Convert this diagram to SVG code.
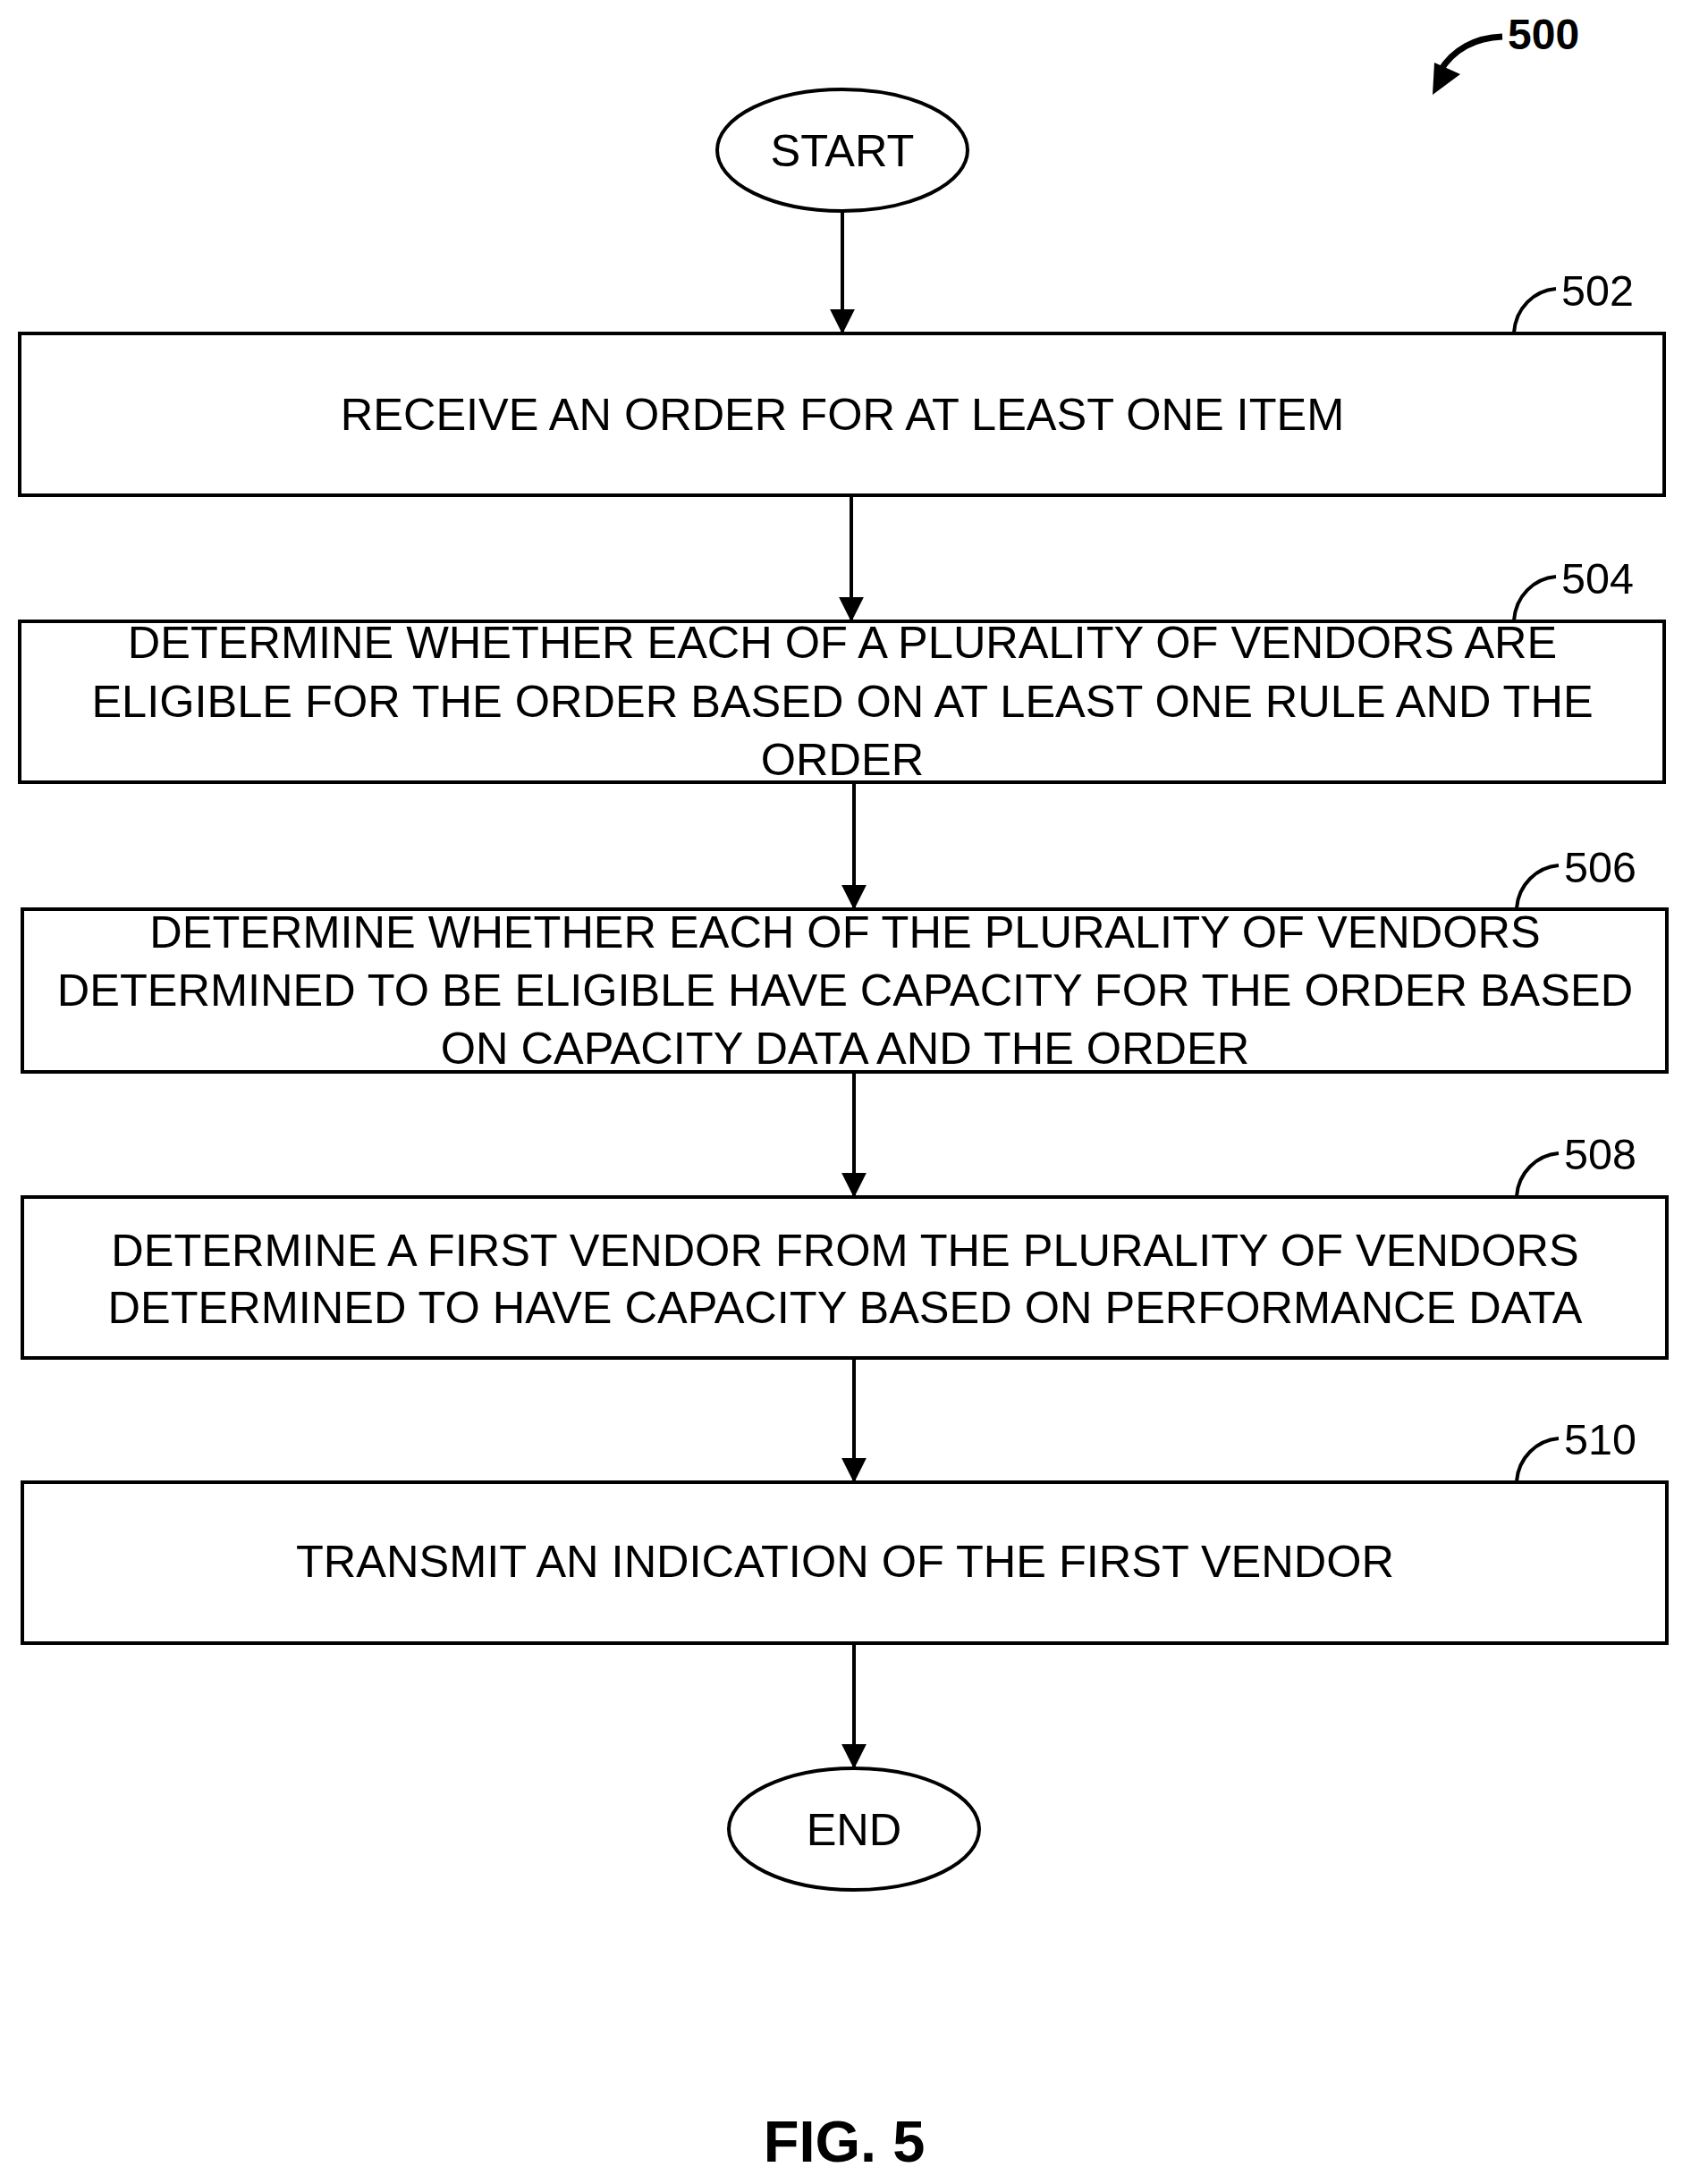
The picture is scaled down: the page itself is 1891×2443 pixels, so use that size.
<svg xmlns="http://www.w3.org/2000/svg" width="1891" height="2443" viewBox="0 0 1891 2443">
<style>
.b{fill:#fff;stroke:#000;stroke-width:4}
.t{font-family:"Liberation Sans",Arial,sans-serif;font-size:50.5px;text-anchor:middle;fill:#000}
.n{font-family:"Liberation Sans",Arial,sans-serif;font-size:48.5px;fill:#000}
.c{fill:none;stroke:#000;stroke-width:4}
</style>
<defs>
<marker id="a2" viewBox="0 0 10 10" refX="9" refY="5" markerWidth="28" markerHeight="28" orient="auto" markerUnits="userSpaceOnUse"><path d="M0,0 L10,5 L0,10z"/></marker></defs>
<rect width="1891" height="2443" fill="#fff"/>
<g id="connectors">
<line class="c" x1="942" y1="236" x2="942" y2="371" marker-end="url(#a2)"/>
<line class="c" x1="952" y1="556" x2="952" y2="693" marker-end="url(#a2)"/>
<line class="c" x1="955" y1="877" x2="955" y2="1015" marker-end="url(#a2)"/>
<line class="c" x1="955" y1="1201" x2="955" y2="1337" marker-end="url(#a2)"/>
<line class="c" x1="955" y1="1521" x2="955" y2="1656" marker-end="url(#a2)"/>
<line class="c" x1="955" y1="1840" x2="955" y2="1976" marker-end="url(#a2)"/>
</g>
<g id="ref500"><text x="1686" y="55" class="n" style="font-weight:bold;font-size:48px">500</text>
<path d="M1680,41 C1650,42 1625,55 1610,80" fill="none" stroke="#000" stroke-width="7"/>
<path d="M1602,106 L1604,70 L1633,83z"/></g>
<g id="start"><ellipse class="b" cx="942" cy="168" rx="140" ry="68"/><text class="t" x="942" y="186">START</text></g>
<g id="n502"><rect class="b" x="22" y="373" width="1839" height="181"/><text class="t" x="942" y="481">RECEIVE AN ORDER FOR AT LEAST ONE ITEM</text>
<path class="c" d="M1740,323 C1715,325 1695,345 1693,372"/><text class="n" x="1746" y="342">502</text></g>
<g id="n504"><rect class="b" x="22" y="695" width="1839" height="180"/>
<text class="t" x="942" y="736">DETERMINE WHETHER EACH OF A PLURALITY OF VENDORS ARE</text>
<text class="t" x="942" y="802">ELIGIBLE FOR THE ORDER BASED ON AT LEAST ONE RULE AND THE</text>
<text class="t" x="942" y="867">ORDER</text>
<path class="c" d="M1740,645 C1715,647 1695,667 1693,694"/><text class="n" x="1746" y="664">504</text></g>
<g id="n506"><rect class="b" x="25" y="1017" width="1839" height="182"/>
<text class="t" x="945" y="1060">DETERMINE WHETHER EACH OF THE PLURALITY OF VENDORS</text>
<text class="t" x="945" y="1125">DETERMINED TO BE ELIGIBLE HAVE CAPACITY FOR THE ORDER BASED</text>
<text class="t" x="945" y="1190">ON CAPACITY DATA AND THE ORDER</text>
<path class="c" d="M1743,968 C1718,970 1698,990 1696,1016"/><text class="n" x="1749" y="987">506</text></g>
<g id="n508"><rect class="b" x="25" y="1339" width="1839" height="180"/>
<text class="t" x="945" y="1416">DETERMINE A FIRST VENDOR FROM THE PLURALITY OF VENDORS</text>
<text class="t" x="945" y="1480">DETERMINED TO HAVE CAPACITY BASED ON PERFORMANCE DATA</text>
<path class="c" d="M1743,1290 C1718,1292 1698,1312 1696,1338"/><text class="n" x="1749" y="1308">508</text></g>
<g id="n510"><rect class="b" x="25" y="1658" width="1839" height="180"/>
<text class="t" x="945" y="1764">TRANSMIT AN INDICATION OF THE FIRST VENDOR</text>
<path class="c" d="M1743,1609 C1718,1611 1698,1631 1696,1657"/><text class="n" x="1749" y="1627">510</text></g>
<g id="end"><ellipse class="b" cx="955" cy="2046" rx="140" ry="68"/><text class="t" x="955" y="2064">END</text></g>
<text x="944" y="2418" class="t" style="font-weight:bold;font-size:65px">FIG. 5</text>
</svg>
